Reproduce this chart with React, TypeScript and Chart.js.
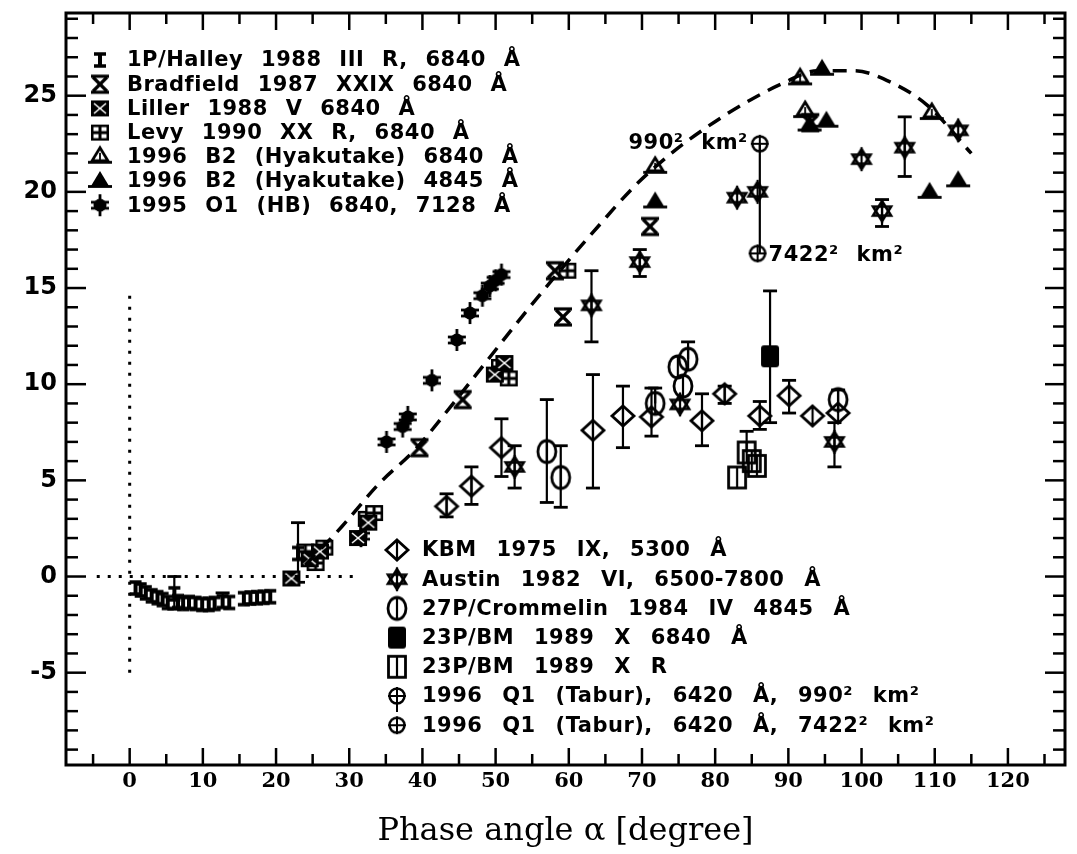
import React, { useEffect, useRef } from 'react';
import { Chart, registerables } from 'chart.js';
Chart.register(...registerables);

// ---------------- data ----------------
const xTickValues = [0, 10, 20, 30, 40, 50, 60, 70, 80, 90, 100, 110, 120];
const yTickValues = [-5, 0, 5, 10, 15, 20, 25];

const halleyX = [0.8, 1.5, 2.2, 3.0, 3.8, 4.5, 5.2, 6.1, 6.6, 7.3, 8.1, 9.0, 9.9, 10.8, 11.6, 12.7, 13.6, 15.6, 16.5, 17.4, 18.3, 19.2, 23.0];
const halleyY = [-0.6, -0.7, -0.85, -1.0, -1.1, -1.2, -1.35, -0.9, -1.3, -1.4, -1.35, -1.4, -1.45, -1.45, -1.4, -1.3, -1.35, -1.15, -1.12, -1.1, -1.08, -1.05, 1.2];
const halleyLo = [null, null, null, null, null, null, null, -1.7, null, null, null, null, null, null, null, null, null, null, null, null, null, null, -0.3];
const halleyHi = [null, null, null, null, null, null, null, 0.0, null, null, null, null, null, null, null, -0.85, null, null, null, null, null, null, 2.8];

const bradfieldX = [39.6, 45.5, 58.1, 59.2, 71.1, 93.0];
const bradfieldY = [6.7, 9.2, 15.9, 13.5, 18.2, 23.6];

const lillerX = [22.1, 24.6, 26.0, 31.2, 32.6, 49.9, 51.2];
const lillerY = [-0.1, 0.9, 1.3, 2.0, 2.8, 10.5, 11.1];

const levyX = [24.0, 25.4, 26.6, 32.4, 33.4, 50.6, 51.8, 59.8];
const levyY = [1.3, 0.7, 1.5, 3.0, 3.3, 10.9, 10.3, 15.9];

const hyak6840X = [71.8, 91.6, 92.3, 109.6];
const hyak6840Y = [21.3, 25.9, 24.2, 24.1];

const hyak4845X = [71.8, 92.9, 95.2, 94.6, 109.3, 113.2];
const hyak4845Y = [19.5, 23.5, 23.7, 26.4, 20.0, 20.6];

const hbX = [31.6, 35.1, 37.3, 38.0, 41.3, 44.7, 46.5, 48.2, 49.2, 50.0, 50.8];
const hbY = [2.1, 7.0, 7.8, 8.3, 10.2, 12.3, 13.7, 14.6, 15.1, 15.4, 15.7];

const kbmX = [43.3, 46.7, 50.8, 63.3, 67.4, 71.3, 78.2, 81.3, 86.1, 90.1, 93.3, 96.8];
const kbmY = [3.65, 4.7, 6.7, 7.6, 8.35, 8.3, 8.1, 9.5, 8.35, 9.4, 8.35, 8.5];
const kbmLo = [3.1, 3.75, 5.2, 4.6, 6.7, 7.3, 6.8, 9.0, 7.65, 8.5, null, null];
const kbmHi = [4.3, 5.7, 8.2, 10.5, 9.9, 9.8, 9.5, 9.9, 9.1, 10.2, null, 9.7];

const austinX = [52.6, 63.1, 69.7, 75.2, 83.0, 85.8, 96.3, 100.0, 102.8, 105.9, 113.2];
const austinY = [5.7, 14.1, 16.35, 8.95, 19.7, 20.0, 7.0, 21.7, 19.0, 22.3, 23.2];
const austinLo = [4.6, 12.2, 15.6, null, null, null, 5.7, null, 18.2, 20.8, null];
const austinHi = [6.8, 15.9, 17.0, null, null, null, 8.0, null, 19.6, 23.9, null];

const crommelinX = [57.0, 58.9, 71.8, 74.9, 75.6, 76.3, 96.8];
const crommelinY = [6.5, 5.15, 9.0, 10.9, 9.9, 11.3, 9.2];
const crommelinLo = [3.85, 3.6, null, null, null, null, null];
const crommelinHi = [9.2, 6.8, 9.8, null, null, 12.2, null];

const bm6840X = [87.5];
const bm6840Y = [11.45];
const bm6840Lo = [8.0];
const bm6840Hi = [14.85];

const bmRX = [83.0, 84.3, 85.0, 85.7];
const bmRY = [5.15, 6.45, 6.0, 5.75];
const bmRHi = [null, 7.55, null, null];

const tabur990X = [86.1];
const tabur990Y = [22.5];
const tabur990Lo = [16.8];

const tabur7422X = [85.8];
const tabur7422Y = [16.8];

const curveX = [24, 29, 34, 39, 44, 49, 54, 59, 64, 69, 74, 79, 84, 89, 94, 99, 104, 109, 115];
const curveY = [0.6, 2.6, 4.8, 6.6, 8.9, 11.3, 13.7, 16.0, 18.2, 20.3, 22.0, 23.4, 24.6, 25.6, 26.3, 26.3, 25.7, 24.5, 22.0];

const hDotX = [-4.5, 31.4];
const hDotY = [0, 0];
const vDotX = [0, 0];
const vDotY = [-5, 15];

const legend1Labels = [
  '1P/Halley 1988 III R, 6840 Å',
  'Bradfield 1987 XXIX 6840 Å',
  'Liller 1988 V 6840 Å',
  'Levy 1990 XX R, 6840 Å',
  '1996 B2 (Hyakutake) 6840 Å',
  '1996 B2 (Hyakutake) 4845 Å',
  '1995 O1 (HB) 6840, 7128 Å',
];
const legend2Labels = [
  'KBM 1975 IX, 5300 Å',
  'Austin 1982 VI, 6500-7800 Å',
  '27P/Crommelin 1984 IV 4845 Å',
  '23P/BM 1989 X 6840 Å',
  '23P/BM 1989 X R',
  '1996 Q1 (Tabur), 6420 Å, 990² km²',
  '1996 Q1 (Tabur), 6420 Å, 7422² km²',
];
const annot990 = '990² km²';
const annot7422 = '7422² km²';

// ---------------- helpers ----------------
function pts(xs: number[], ys: number[], lo?: (number | null)[], hi?: (number | null)[]) {
  return xs.map((x, i) => ({ x, y: ys[i], lo: lo ? lo[i] : null, hi: hi ? hi[i] : null }));
}

function line(c: CanvasRenderingContext2D, x1: number, y1: number, x2: number, y2: number) {
  c.beginPath(); c.moveTo(x1, y1); c.lineTo(x2, y2); c.stroke();
}

function mk(draw: (c: CanvasRenderingContext2D) => void, w = 30, h = 30) {
  const cv = document.createElement('canvas');
  cv.width = w; cv.height = h;
  const c = cv.getContext('2d') as CanvasRenderingContext2D;
  c.strokeStyle = '#000'; c.fillStyle = '#000';
  draw(c);
  return cv;
}

function makeSymbols() {
  return {
    bar: mk(c => { c.lineWidth = 4; line(c, 15, 8, 15, 22); c.lineWidth = 3.5; line(c, 9, 9, 21, 9); line(c, 9, 21, 21, 21); }),
    xbar: mk(c => { c.lineWidth = 3.2; line(c, 8, 8, 22, 22); line(c, 22, 8, 8, 22); line(c, 6, 7, 24, 7); line(c, 6, 23, 24, 23); }),
    liller: mk(c => {
      c.fillRect(6, 7, 18, 16);
      c.strokeStyle = '#fff'; c.lineWidth = 1.6; line(c, 9, 10, 21, 20); line(c, 21, 10, 9, 20);
    }),
    levy: mk(c => {
      c.fillRect(6, 7, 18, 16);
      c.fillStyle = '#fff';
      c.fillRect(8.5, 9.5, 5, 4); c.fillRect(16.5, 9.5, 5, 4); c.fillRect(8.5, 16.5, 5, 4); c.fillRect(16.5, 16.5, 5, 4);
    }),
    triO: mk(c => {
      c.lineWidth = 2.8; c.beginPath(); c.moveTo(15, 6); c.lineTo(7, 19); c.lineTo(23, 19); c.closePath(); c.stroke();
      line(c, 3, 20.5, 27, 20.5); c.lineWidth = 1.8; line(c, 15, 11, 15, 20);
    }),
    triF: mk(c => {
      c.beginPath(); c.moveTo(15, 5); c.lineTo(6, 20); c.lineTo(24, 20); c.closePath(); c.fill();
      c.lineWidth = 2.8; line(c, 3, 20.5, 27, 20.5);
    }),
    hb: mk(c => {
      c.beginPath(); c.arc(15, 15, 6.5, 0, Math.PI * 2); c.fill();
      c.lineWidth = 2.8; line(c, 6, 12, 24, 12); line(c, 6, 18, 24, 18); line(c, 15, 4, 15, 26);
    }),
    diamond: mk(c => {
      c.lineWidth = 2.8; c.beginPath(); c.moveTo(15, 5); c.lineTo(26, 15); c.lineTo(15, 25); c.lineTo(4, 15); c.closePath(); c.stroke();
      c.lineWidth = 2.2; line(c, 15, 5, 15, 25);
    }),
    star: mk(c => {
      c.lineWidth = 2.6;
      c.beginPath(); c.moveTo(15, 5); c.lineTo(24, 19.5); c.lineTo(6, 19.5); c.closePath(); c.stroke();
      c.beginPath(); c.moveTo(15, 25); c.lineTo(24, 10.5); c.lineTo(6, 10.5); c.closePath(); c.stroke();
      c.lineWidth = 2.2; line(c, 15, 3, 15, 27);
    }),
    circle: mk(c => {
      c.lineWidth = 2.8; c.beginPath(); c.ellipse(15, 15, 9, 11, 0, 0, Math.PI * 2); c.stroke();
      c.lineWidth = 2.2; line(c, 15, 4, 15, 26);
    }),
    sqF: mk(c => {
      c.beginPath(); c.roundRect(6, 4, 18, 22, 3); c.fill();
    }),
    sqO: mk(c => {
      c.lineWidth = 2.8; c.strokeRect(6.5, 4.5, 17, 21);
      c.lineWidth = 2.2; line(c, 15, 4, 15, 26);
    }),
    oplus: mk(c => {
      c.lineWidth = 2.5; c.beginPath(); c.arc(15, 15, 7.5, 0, Math.PI * 2); c.stroke();
      c.lineWidth = 2; line(c, 15, 6, 15, 24); line(c, 6, 15, 24, 15);
    }),
  };
}

// ---------------- plugins ----------------
const whiteBg = {
  id: 'whiteBg',
  beforeDraw(chart: any) {
    const c = chart.ctx; c.save(); c.fillStyle = '#fff'; c.fillRect(0, 0, chart.width, chart.height); c.restore();
  },
};

const frameTicks = {
  id: 'frameTicks',
  afterDraw(chart: any) {
    const c = chart.ctx; const a = chart.chartArea; const xs = chart.scales.x; const ys = chart.scales.y;
    c.save(); c.strokeStyle = '#000';
    c.lineWidth = 2.5;
    for (let v = Math.ceil(xs.min / 5) * 5; v <= xs.max; v += 5) {
      const p = xs.getPixelForValue(v); const L = v % 10 === 0 ? 17 : 11;
      line(c, p, a.bottom, p, a.bottom - L); line(c, p, a.top, p, a.top + L);
    }
    for (let v = Math.ceil(ys.min); v <= ys.max; v += 1) {
      const p = ys.getPixelForValue(v); const L = v % 5 === 0 ? 20 : 12;
      line(c, a.left, p, a.left + L, p); line(c, a.right, p, a.right - L, p);
    }
    c.lineWidth = 3;
    c.strokeRect(a.left, a.top, a.right - a.left, a.bottom - a.top);
    c.restore();
  },
};

const errorBars = {
  id: 'errorBars',
  beforeDatasetsDraw(chart: any) {
    const c = chart.ctx; const ys = chart.scales.y;
    c.save(); c.strokeStyle = '#000'; c.lineWidth = 2.2;
    chart.data.datasets.forEach((ds: any, i: number) => {
      const meta = chart.getDatasetMeta(i);
      ds.data.forEach((p: any, j: number) => {
        if (p.lo == null && p.hi == null) return;
        const el = meta.data[j]; if (!el) return;
        const x = el.x;
        const y1 = ys.getPixelForValue(p.lo != null ? p.lo : p.y);
        const y2 = ys.getPixelForValue(p.hi != null ? p.hi : p.y);
        line(c, x, y1, x, y2);
        const cap = ds.errCap == null ? 7 : ds.errCap;
        if (cap > 0) {
          c.lineWidth = 2.8;
          if (p.lo != null) line(c, x - cap, y1, x + cap, y1);
          if (p.hi != null) line(c, x - cap, y2, x + cap, y2);
          c.lineWidth = 2.2;
        }
      });
    });
    c.restore();
  },
};

const legendAndNotes = {
  id: 'legendAndNotes',
  afterDraw(chart: any) {
    const c = chart.ctx;
    c.save();
    c.fillStyle = '#000'; c.strokeStyle = '#000';
    c.font = 'bold 21px "DejaVu Sans"';
    c.textBaseline = 'middle'; c.textAlign = 'left';
    (c as any).letterSpacing = '0.5px';
    chart.data.datasets.forEach((ds: any) => {
      if (!ds.legendBox) return;
      const box = ds.legendBox;
      const g1 = box.group === 1;
      (c as any).wordSpacing = g1 ? '10px' : '12px';
      const cx = g1 ? 100 : 397;
      const tx = g1 ? 127 : 422;
      const cy = g1 ? 60 + box.row * 24.2 : 550 + box.row * 29.2;
      const img = ds.pointStyle;
      c.drawImage(img, cx - img.width / 2, cy - img.height / 2);
      if (box.tail) { c.lineWidth = 2; line(c, cx, cy + 7, cx, cy + 16); }
      c.fillText(ds.label, tx, cy + 1);
    });
    (c as any).wordSpacing = '10px';
    const find = (lab: string) => chart.data.datasets.findIndex((d: any) => d.label === lab);
    const i990 = find(legend2Labels[5]);
    const i7422 = find(legend2Labels[6]);
    if (i990 >= 0) {
      const el = chart.getDatasetMeta(i990).data[0];
      c.textAlign = 'right'; c.fillText(annot990, el.x - 12, el.y);
    }
    if (i7422 >= 0) {
      const el = chart.getDatasetMeta(i7422).data[0];
      c.textAlign = 'left'; c.fillText(annot7422, el.x + 11, el.y + 2);
    }
    c.restore();
  },
};

export default function App() {
  const ref = useRef<HTMLCanvasElement | null>(null);
  useEffect(() => {
    if (!ref.current) return;
    const S = makeSymbols();
    const sc = (label: string, data: any[], style: any, legendBox: any, extra: any = {}) => ({
      type: 'scatter', label, data, pointStyle: style, pointRadius: 6, pointHoverRadius: 6,
      showLine: false, legendBox, ...extra,
    });
    const chart = new Chart(ref.current, {
      type: 'scatter',
      data: {
        datasets: [
          { type: 'line', label: '', data: pts(hDotX, hDotY), borderColor: '#000', borderWidth: 3, borderDash: [3, 8], pointRadius: 0, showLine: true, fill: false } as any,
          { type: 'line', label: '', data: pts(vDotX, vDotY), borderColor: '#000', borderWidth: 3, borderDash: [3, 8], pointRadius: 0, showLine: true, fill: false } as any,
          { type: 'line', label: '', data: pts(curveX, curveY), borderColor: '#000', borderWidth: 3.5, borderDash: [14, 9], pointRadius: 0, showLine: true, fill: false, cubicInterpolationMode: 'monotone' } as any,
          sc(legend1Labels[0], pts(halleyX, halleyY, halleyLo, halleyHi), S.bar, { group: 1, row: 0 }),
          sc(legend1Labels[1], pts(bradfieldX, bradfieldY), S.xbar, { group: 1, row: 1 }),
          sc(legend1Labels[2], pts(lillerX, lillerY), S.liller, { group: 1, row: 2 }),
          sc(legend1Labels[3], pts(levyX, levyY), S.levy, { group: 1, row: 3 }),
          sc(legend1Labels[4], pts(hyak6840X, hyak6840Y), S.triO, { group: 1, row: 4 }),
          sc(legend1Labels[5], pts(hyak4845X, hyak4845Y), S.triF, { group: 1, row: 5 }),
          sc(legend1Labels[6], pts(hbX, hbY), S.hb, { group: 1, row: 6 }),
          sc(legend2Labels[0], pts(kbmX, kbmY, kbmLo, kbmHi), S.diamond, { group: 2, row: 0 }),
          sc(legend2Labels[1], pts(austinX, austinY, austinLo, austinHi), S.star, { group: 2, row: 1 }),
          sc(legend2Labels[2], pts(crommelinX, crommelinY, crommelinLo, crommelinHi), S.circle, { group: 2, row: 2 }),
          sc(legend2Labels[3], pts(bm6840X, bm6840Y, bm6840Lo, bm6840Hi), S.sqF, { group: 2, row: 3 }),
          sc(legend2Labels[4], pts(bmRX, bmRY, undefined, bmRHi), S.sqO, { group: 2, row: 4 }),
          sc(legend2Labels[5], pts(tabur990X, tabur990Y, tabur990Lo), S.oplus, { group: 2, row: 5, tail: true }, { errCap: 0 }),
          sc(legend2Labels[6], pts(tabur7422X, tabur7422Y), S.oplus, { group: 2, row: 6 }),
        ] as any,
      },
      options: {
        animation: false,
        responsive: false,
        maintainAspectRatio: false,
        layout: { padding: { top: 13, right: 12, left: 0, bottom: 0 } },
        plugins: { legend: { display: false }, tooltip: { enabled: false } },
        scales: {
          x: {
            type: 'linear', min: -8.7, max: 127.8,
            grid: { display: false, drawTicks: false },
            border: { display: false },
            afterFit: (s: any) => { s.height = 89; s.paddingLeft = 0; s.paddingRight = 0; },
            afterBuildTicks: (s: any) => { s.ticks = xTickValues.map(v => ({ value: v })); },
            ticks: { color: '#000', padding: 4, maxRotation: 0, autoSkip: false, font: { family: 'DejaVu Serif', size: 21, weight: 'bold' } },
            title: { display: true, text: 'Phase angle α [degree]', color: '#000', font: { family: 'DejaVu Serif', size: 32 }, padding: { top: 0, bottom: 3 } },
          },
          y: {
            type: 'linear', min: -9.8, max: 29.3,
            grid: { display: false, drawTicks: false },
            border: { display: false },
            afterFit: (s: any) => { s.width = 66; s.paddingTop = 0; s.paddingBottom = 0; },
            afterBuildTicks: (s: any) => { s.ticks = yTickValues.map(v => ({ value: v })); },
            ticks: { color: '#000', padding: 9, autoSkip: false, font: { family: 'DejaVu Sans', size: 24, weight: 'bold' } },
          },
        },
      } as any,
      plugins: [whiteBg, errorBars, frameTicks, legendAndNotes],
    });
    return () => chart.destroy();
  }, []);
  return (
    <div style={{ position: 'absolute', left: 0, top: 0, width: 1077, height: 854, background: '#fff' }}>
      <canvas ref={ref} width={1077} height={854} style={{ display: 'block', width: 1077, height: 854 }} />
    </div>
  );
}
